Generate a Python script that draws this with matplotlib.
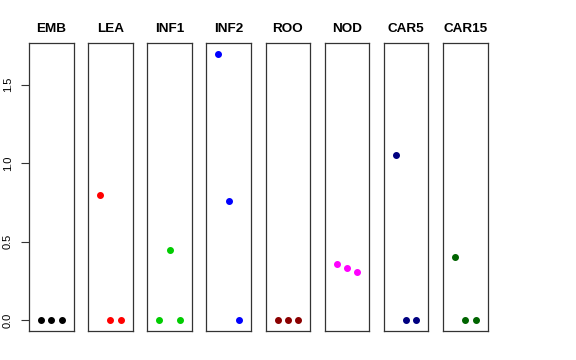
import matplotlib
matplotlib.use("Agg")
import matplotlib.pyplot as plt

tissues = ["EMB", "LEA", "INF1", "INF2", "ROO", "NOD", "CAR5", "CAR15"]
colors = ["#000000", "#FF0000", "#00CD00", "#0000FF", "#8B0000", "#FF00FF", "#000080", "#006400"]
values = {
    "EMB":   [0.0, 0.0, 0.0],
    "LEA":   [0.80, 0.0, 0.0],
    "INF1":  [0.0, 0.446, 0.0],
    "INF2":  [1.695, 0.759, 0.0],
    "ROO":   [0.0, 0.0, 0.0],
    "NOD":   [0.357, 0.336, 0.305],
    "CAR5":  [1.054, 0.0, 0.0],
    "CAR15": [0.406, 0.0, 0.0],
}
reps = [1, 2, 3]
yticks = [0.0, 0.5, 1.0, 1.5]

plt.rcParams['font.family'] = ['Liberation Sans', 'DejaVu Sans']
W, H = 576, 360
fig = plt.figure(figsize=(W / 100, H / 100), dpi=100)

ymax_data = max(max(v) for v in values.values())
ext = 0.04 * ymax_data
ylim = (-ext, ymax_data + ext)

left0, step, width = 29, 59.14, 44.6
top, bottom = 43.3, 331
for i, (t, c) in enumerate(zip(tissues, colors)):
    l = left0 + step * i
    ax = fig.add_axes([l / W, 1 - bottom / H, width / W, (bottom - top) / H])
    ax.plot(reps, values[t], 'o', color=c, ms=4, mec=c, clip_on=False)
    ax.set_xlim(-0.16, 4.16)
    ax.set_ylim(*ylim)
    ax.set_xticks([])
    for s in ax.spines.values():
        s.set_linewidth(0.9)
        s.set_color('#333333')
    ax.set_title(t, fontsize=9.7, fontweight='bold', pad=8)
    if i == 0:
        ax.set_yticks(yticks)
        ax.set_yticklabels([f"{v:.1f}" for v in yticks], rotation=90, va='center', fontsize=8)
        ax.tick_params(axis='y', length=6, width=0.8, pad=5.5, color='#333333')
    else:
        ax.set_yticks([])

fig.savefig("out.png", dpi=100)
